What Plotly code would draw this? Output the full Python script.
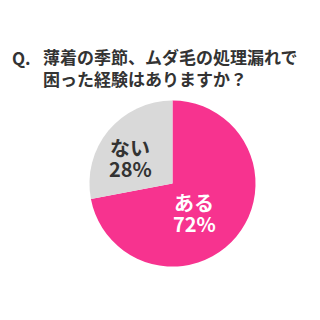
import plotly.graph_objects as go

labels = ["ある", "ない"]
values = [72, 28]
colors = ["#F7338F", "#D9D9D9"]
text_colors = ["#FFFFFF", "#333333"]
title_q = "Q."
title_lines = ["薄着の季節、ムダ毛の処理漏れで", "困った経験はありますか？"]

# layout: label anchor centres (pixels) for each slice's two text lines
label_anchor = [(194, 202.5), (130, 147.5)]
line_gap = 20.5

fig = go.Figure(go.Pie(
    labels=labels, values=values, sort=False, direction="clockwise", rotation=0,
    marker=dict(colors=colors, line=dict(width=0)),
    textinfo="none",
    domain=dict(x=[0.275, 0.803], y=[0.167, 0.686]),
    showlegend=False, hoverinfo="skip",
))

font = dict(family="Noto Sans CJK JP", size=17, color="#333333")
anns = [
    dict(text="<b>" + title_q + "</b>", x=10, y=57, xref="x", yref="y",
         xanchor="left", yanchor="middle", showarrow=False, font=font),
    dict(text="<br>".join("<b>" + t + "</b>" for t in title_lines), x=41, y=67,
         xref="x", yref="y", xanchor="left", yanchor="middle", align="left",
         showarrow=False, font=font),
]
for lab, val, col, (ax, ay) in zip(labels, values, text_colors, label_anchor):
    for i, t in enumerate([lab, f"{val}%"]):
        anns.append(dict(text=f"<b>{t}</b>", x=ax, y=ay + i * line_gap, xref="x", yref="y",
                         xanchor="center", yanchor="middle", showarrow=False,
                         font=dict(family="Noto Sans CJK JP", size=20, color=col)))

fig.update_layout(
    width=320, height=320, margin=dict(l=0, r=0, t=0, b=0),
    paper_bgcolor="white", plot_bgcolor="rgba(0,0,0,0)",
    xaxis=dict(visible=False, range=[0, 320]), yaxis=dict(visible=False, range=[320, 0]),
    annotations=anns,
)
fig.write_html("out.html")
